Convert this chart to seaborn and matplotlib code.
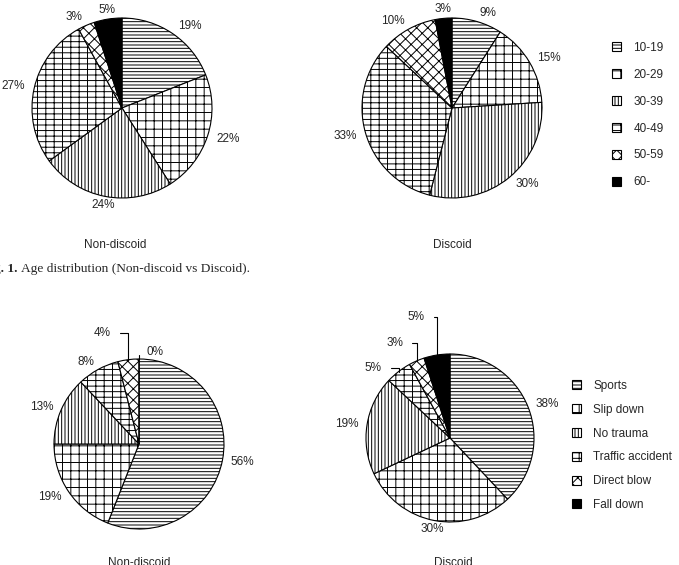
import matplotlib
matplotlib.use("Agg")
import matplotlib.pyplot as plt
from matplotlib.patches import Patch
import numpy as np
import seaborn as sns

# data (percent)
age_groups = ["10-19", "20-29", "30-39", "40-49", "50-59", "60-"]
age_nondiscoid = [19, 22, 24, 27, 3, 5]
age_discoid = [9, 15, 30, 33, 10, 3]

causes = ["Sports", "Slip down", "No trauma", "Traffic accident", "Direct blow", "Fall down"]
cause_nondiscoid = [56, 19, 13, 8, 4, 0]
cause_discoid = [38, 30, 19, 5, 3, 5]

group_titles = ["Non-discoid", "Discoid"]
caption_bold = "Fig. 1."
caption_text = "Age distribution (Non-discoid vs Discoid)."

# black & white print style: hatches instead of colours
hatches = ["-----", "++", "|||||", "---||", "xxx", ""]
faces = ["white"] * 5 + ["black"]

sns.set_theme(style="white")
plt.rcParams["font.family"] = ["Liberation Sans", "DejaVu Sans"]
plt.rcParams["hatch.linewidth"] = 0.7
plt.rcParams["hatch.color"] = "black"

W, H = 679, 565
fig = plt.figure(figsize=(W / 100, H / 100), dpi=100)
FS = 8.5


def pie_axes(cx, cy, r, half=1.6):
    s = 2 * r * half
    ax = fig.add_axes([(cx - s / 2) / W, 1 - (cy + s / 2) / H, s / W, s / H])
    return ax, half


def draw_pie(axh, values, leaders=None, dist=1.1):
    ax, half = axh
    wedges, _ = ax.pie(values, startangle=90, counterclock=False, radius=1,
                       colors=faces, wedgeprops=dict(edgecolor="black", linewidth=0.8))
    # pie() resets the limits, so set them afterwards
    ax.set_xlim(-half, half)
    ax.set_ylim(-half, half)
    ax.set_aspect("equal")
    ax.axis("off")
    for w, h in zip(wedges, hatches):
        w.set_hatch(h)
    leaders = leaders or {}
    for i, (w, v) in enumerate(zip(wedges, values)):
        mid = np.deg2rad((w.theta1 + w.theta2) / 2)
        edge = (np.cos(mid), np.sin(mid))
        if i in leaders:
            tx, ty, ha = leaders[i]
            ax.annotate(f"{v}%", xy=edge, xytext=(tx, ty), ha=ha, va="center", fontsize=FS,
                        arrowprops=dict(arrowstyle="-", color="black", lw=0.8,
                                        shrinkA=4, shrinkB=0,
                                        connectionstyle="angle,angleA=0,angleB=90,rad=0"))
        else:
            if abs(edge[0]) < 0.2:
                ha = "center"
            else:
                ha = "left" if edge[0] > 0 else "right"
            ax.text(dist * edge[0], dist * edge[1], f"{v}%", ha=ha, va="center",
                    fontsize=FS)


def add_legend(labels, x, y, spacing):
    handles = [Patch(facecolor=f, edgecolor="black", hatch=h, lw=0.8)
               for f, h in zip(faces, hatches)]
    fig.legend(handles, labels, loc="upper left", bbox_to_anchor=(x / W, 1 - y / H),
               frameon=False, fontsize=FS, handlelength=0.8, handleheight=0.8,
               handletextpad=1.0, labelspacing=spacing, borderpad=0, borderaxespad=0)


# top row: age distribution
draw_pie(pie_axes(122, 108, 90), age_nondiscoid)
draw_pie(pie_axes(452, 108, 90), age_discoid)
add_legend(age_groups, 612, 42, 1.26)
fig.text(115 / W, 1 - 245 / H, group_titles[0], ha="center", va="center", fontsize=FS)
fig.text(452 / W, 1 - 245 / H, group_titles[1], ha="center", va="center", fontsize=FS)

fig.text(18 / W, 1 - 269 / H, caption_bold, ha="right", va="center",
         family="Liberation Serif", weight="bold", fontsize=9.6)
fig.text(21 / W, 1 - 269 / H, caption_text, ha="left", va="center",
         family="Liberation Serif", fontsize=9.6)

# bottom row: cause of injury
draw_pie(pie_axes(139, 444, 85), cause_nondiscoid,
         leaders={4: (-0.33, 1.31, "right"), 5: (0.094, 1.08, "left")})
draw_pie(pie_axes(450, 438, 84), cause_discoid,
         leaders={3: (-0.81, 0.83, "right"), 4: (-0.56, 1.13, "right"),
                  5: (-0.30, 1.44, "right")})
add_legend(causes, 572, 380, 1.0)
fig.text(139 / W, 1 - 557 / H, group_titles[0], ha="center", va="top", fontsize=FS)
fig.text(453 / W, 1 - 557 / H, group_titles[1], ha="center", va="top", fontsize=FS)

fig.savefig("out.png", dpi=100)
